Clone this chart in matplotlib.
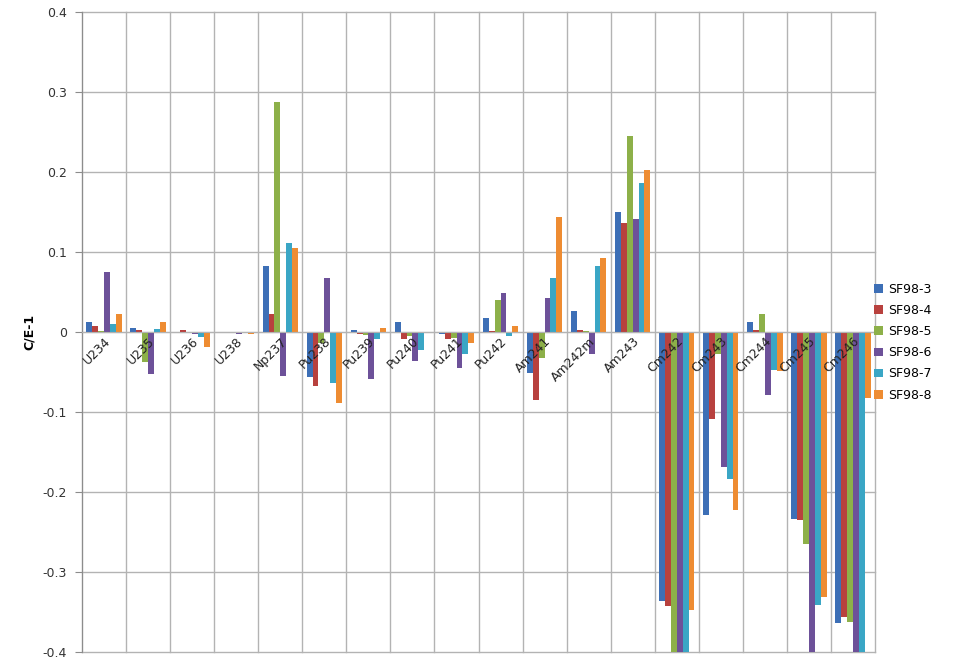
import numpy as np
import matplotlib
matplotlib.use("Agg")
import matplotlib.pyplot as plt

# isotopes along the category axis
nuclides = ["U234", "U235", "U236", "U238", "Np237", "Pu238", "Pu239", "Pu240",
            "Pu241", "Pu242", "Am241", "Am242m", "Am243", "Cm242", "Cm243",
            "Cm244", "Cm245", "Cm246"]

# C/E-1 per sample
sf98_3 = [0.012, 0.005, -0.001, -0.001, 0.082, -0.056, 0.002, 0.013, -0.002,
          0.017, -0.051, 0.026, 0.150, -0.336, -0.229, 0.012, -0.234, -0.364]
sf98_4 = [0.007, 0.002, 0.002, -0.001, 0.022, -0.068, -0.003, -0.009, -0.009,
          0.001, -0.085, 0.002, 0.136, -0.342, -0.109, 0.002, -0.235, -0.356]
sf98_5 = [0.001, -0.037, -0.001, -0.001, 0.287, -0.014, -0.004, -0.005, -0.008,
          0.040, -0.033, 0.001, 0.245, -0.420, -0.027, 0.023, -0.265, -0.362]
sf98_6 = [0.075, -0.052, -0.002, -0.002, -0.055, 0.068, -0.059, -0.036, -0.045,
          0.049, 0.043, -0.028, 0.141, -0.410, -0.169, -0.079, -0.430, -0.450]
sf98_7 = [0.010, 0.004, -0.006, -0.001, 0.111, -0.064, -0.009, -0.022, -0.028,
          -0.005, 0.068, 0.083, 0.186, -0.430, -0.184, -0.047, -0.341, -0.410]
sf98_8 = [0.023, 0.013, -0.019, -0.002, 0.105, -0.089, 0.005, -0.001, -0.014,
          0.008, 0.144, 0.092, 0.202, -0.348, -0.223, -0.049, -0.331, -0.083]

series = [("SF98-3", sf98_3), ("SF98-4", sf98_4), ("SF98-5", sf98_5),
          ("SF98-6", sf98_6), ("SF98-7", sf98_7), ("SF98-8", sf98_8)]
colors = ["#3d6fb6", "#b8413e", "#8db049", "#6d5199", "#3aa6c5", "#ee8c32"]

fig = plt.figure(figsize=(9.68, 6.63), dpi=100)
ax = fig.add_axes([0.0847, 0.0166, 0.8193, 0.9654])

x = np.arange(len(nuclides))
n = len(series)
w = 0.8 / n
for i, (name, vals) in enumerate(series):
    ax.bar(x + (i - (n - 1) / 2) * w, vals, width=w, color=colors[i],
           label=name, zorder=2)

ax.set_xlim(-0.5, len(nuclides) - 0.5)
ax.set_ylim(-0.4, 0.4)
ax.set_yticks(np.arange(-0.4, 0.41, 0.1))
ax.set_yticklabels(["-0.4", "-0.3", "-0.2", "-0.1", "0", "0.1", "0.2", "0.3", "0.4"])

# gridlines: horizontal at each tick, vertical between categories
gcol = "#b3b3b3"
for yv in np.arange(-0.4, 0.41, 0.1):
    ax.axhline(yv, color=gcol, lw=1.0, zorder=1, clip_on=False)
for xv in np.arange(-0.5, len(nuclides), 1.0):
    ax.axvline(xv, color=gcol, lw=1.0, zorder=1, clip_on=False)

for s in ["top", "right"]:
    ax.spines[s].set_visible(False)
ax.spines["left"].set_color("#8c8c8c")
ax.spines["bottom"].set_position(("data", 0))
ax.spines["bottom"].set_color(gcol)

ax.tick_params(axis="y", direction="out", length=5, color="#8c8c8c",
               labelsize=9, labelcolor="#333333", pad=6)
ax.set_xticks(x)
ax.set_xticklabels(nuclides, rotation=45, ha="right", rotation_mode="anchor",
                   fontsize=9, color="#222222")
ax.tick_params(axis="x", length=0, pad=2)
# category names sit on top of the bars
ax.xaxis.set_zorder(4)

ax.set_ylabel("C/E-1", fontsize=9, fontweight="bold", labelpad=5)

ax.legend(loc="center left", bbox_to_anchor=(0.985, 0.484), frameon=False,
          fontsize=9, handlelength=0.7, handleheight=0.7, handletextpad=0.4,
          labelspacing=0.65)

fig.savefig("out.png", dpi=100)
